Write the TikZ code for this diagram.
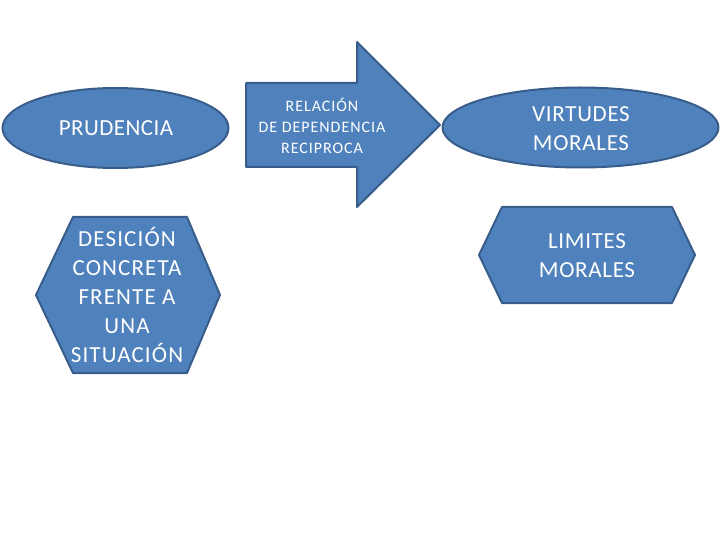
\documentclass[tikz,border=0pt]{standalone}
\usepackage{fontspec}
\setmainfont{Carlito}
\usetikzlibrary{shapes.geometric}
\definecolor{boxfill}{HTML}{4F81BD}
\definecolor{boxline}{HTML}{385D8A}
\tikzset{
  shp/.style={fill=boxfill,draw=boxline,line width=2pt,line join=round},
  lbl/.style={text=white,align=center,inner sep=0pt},
  big/.style={lbl,font=\fontsize{23}{29}\selectfont\addfontfeatures{LetterSpace=#1}},
  small/.style={lbl,font=\fontsize{16}{21}\selectfont\addfontfeatures{LetterSpace=6}}
}
\begin{document}
\begin{tikzpicture}[x=1pt,y=-1pt]
\useasboundingbox (0,0) rectangle (720,540);
% PRUDENCIA ellipse
\draw[shp] (115.5,128) ellipse [x radius=113, y radius=40];
\node[big=2] (prud) at (116,128) {PRUDENCIA};
% hexagon left
\draw[shp] (73,217) -- (187,217) -- (220,295) -- (187,373) -- (73,373) -- (36,295) -- cycle;
\node[big=5] (dec) at (127,295) {DESICIÓN\\CONCRETA\\FRENTE A\\UNA\\SITUACIÓN};
% arrow
\draw[shp] (246,83) -- (357,83) -- (357,42) -- (440,125) -- (357,207) -- (357,167) -- (246,167) -- cycle;
\node[small] (rel) at (322,126) {RELACIÓN\\DE DEPENDENCIA\\RECIPROCA};
% VIRTUDES ellipse
\draw[shp] (580.5,127.5) ellipse [x radius=138, y radius=40];
\node[big=3] (virt) at (581,129) {VIRTUDES\\MORALES};
% LIMITES hexagon
\draw[shp] (502,207) -- (672,207) -- (695,255) -- (672,303) -- (502,303) -- (479,255) -- cycle;
\node[big=3] (lim) at (587,256) {LIMITES\\MORALES};
\end{tikzpicture}
\end{document}
